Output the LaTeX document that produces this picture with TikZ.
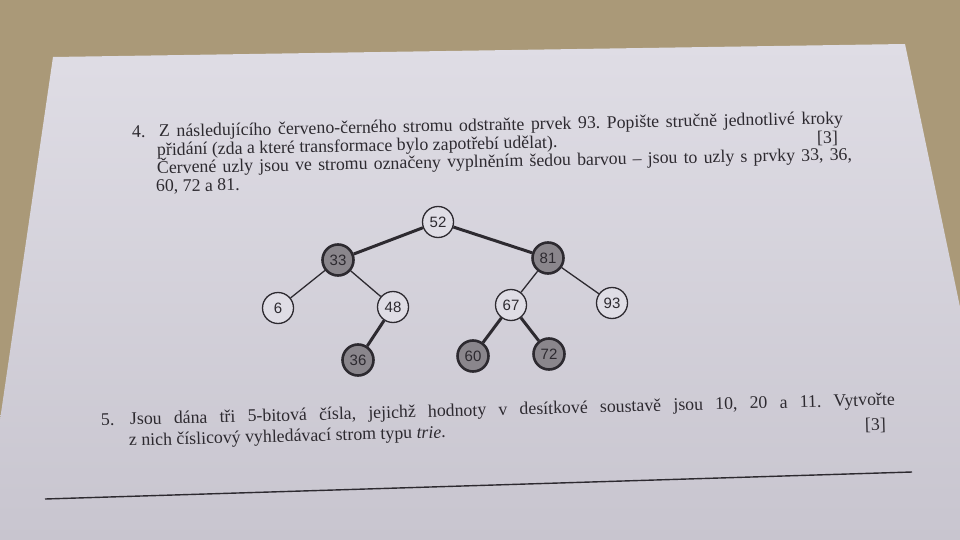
\documentclass[tikz,border=0pt]{standalone}
\usepackage{fontspec}
\setmainfont{Liberation Serif}
\newfontfamily\treefont{Liberation Sans}
\usetikzlibrary{positioning}
\definecolor{tablecol}{RGB}{170,153,120}
\definecolor{paperlight}{RGB}{223,221,229}
\definecolor{paperdark}{RGB}{200,197,207}
\definecolor{ink}{RGB}{45,42,48}
\definecolor{redgrey}{RGB}{138,134,140}
\frenchspacing

\begin{document}
\begin{tikzpicture}[x=1pt, y=-1pt, on grid]
    % Styles
    \tikzstyle{blacknode} = [circle, minimum size=31pt, inner sep=0pt, draw=ink, line width=1.3pt, fill=paperlight, text=ink, font=\treefont\fontsize{15}{15}\selectfont]
    \tikzstyle{rednode} = [blacknode, fill=redgrey, line width=2.6pt]
    \tikzstyle{blackedge} = [draw=ink, line width=1.3pt]
    \tikzstyle{rededge} = [draw=ink, line width=3pt]
    \tikzstyle{textline} = [text=ink, anchor=base west, rotate=1.1, inner sep=0pt, font=\fontsize{17.8}{18}\selectfont]

    % Table and sheet
    \useasboundingbox (0,0) rectangle (960,540);
    \fill [tablecol] (0,0) rectangle (960,540);
    \shade [top color=paperlight, bottom color=paperdark] (53,57) -- (905,44) -- (960,307) -- (960,540) -- (0,540) -- (0,420) -- cycle;

    % Question 4
    \node (num4) [textline] at (132,138) {4.};
    \node (q4a) [textline] at (159,137) {\makebox[684pt][s]{Z následujícího červeno-černého stromu odstraňte prvek 93. Popište stručně jednotlivé kroky}};
    \node (q4b) [textline] at (157,155.5) {přidání (zda a které transformace bylo zapotřebí udělat).};
    \node (pts4) [textline] at (817,144) {[3]};
    \node (q4c) [textline] at (157,173.5) {\makebox[695pt][s]{Červené uzly jsou ve stromu označeny vyplněním šedou barvou – jsou to uzly s prvky 33, 36,}};
    \node (q4d) [textline] at (156,192) {60, 72 a 81.};

    % Tree
    \node (n52) [blacknode] at (438,222) {52};
    \node (n33) [rednode, below left=38pt and 100pt of n52] {33};
    \node (n81) [rednode, below right=36pt and 110pt of n52] {81};
    \node (n6) [blacknode, below left=48pt and 60pt of n33] {6};
    \node (n48) [blacknode, below right=47pt and 55pt of n33] {48};
    \node (n36) [rednode, below left=53pt and 35pt of n48] {36};
    \node (n67) [blacknode, below left=47pt and 37pt of n81] {67};
    \node (n93) [blacknode, below right=45pt and 64pt of n81] {93};
    \node (n60) [rednode, below left=51pt and 38pt of n67] {60};
    \node (n72) [rednode, below right=49pt and 38pt of n67] {72};

    % Paths
    \draw [rededge] (n52) -- (n33);
    \draw [rededge] (n52) -- (n81);
    \draw [blackedge] (n33) -- (n6);
    \draw [blackedge] (n33) -- (n48);
    \draw [rededge] (n48) -- (n36);
    \draw [blackedge] (n81) -- (n67);
    \draw [blackedge] (n81) -- (n93);
    \draw [rededge] (n67) -- (n60);
    \draw [rededge] (n67) -- (n72);

    % Question 5
    \node (num5) [textline, rotate=0.4] at (101,426) {5.};
    \node (q5a) [textline, rotate=0.4] at (130,425) {\makebox[765pt][s]{Jsou dána tři 5-bitová čísla, jejichž hodnoty v desítkové soustavě jsou 10, 20 a 11. Vytvořte}};
    \node (pts5) [textline, rotate=0.4] at (865,431) {[3]};
    \node (q5b) [textline, rotate=0.4] at (129,446) {z nich číslicový vyhledávací strom typu \emph{trie}.};

    % Rule
    \coordinate (ruleL) at (45,499);
    \coordinate (ruleR) at (912,472);
    \draw [ink, line width=1.4pt] (ruleL) -- (ruleR);
\end{tikzpicture}
\end{document}
